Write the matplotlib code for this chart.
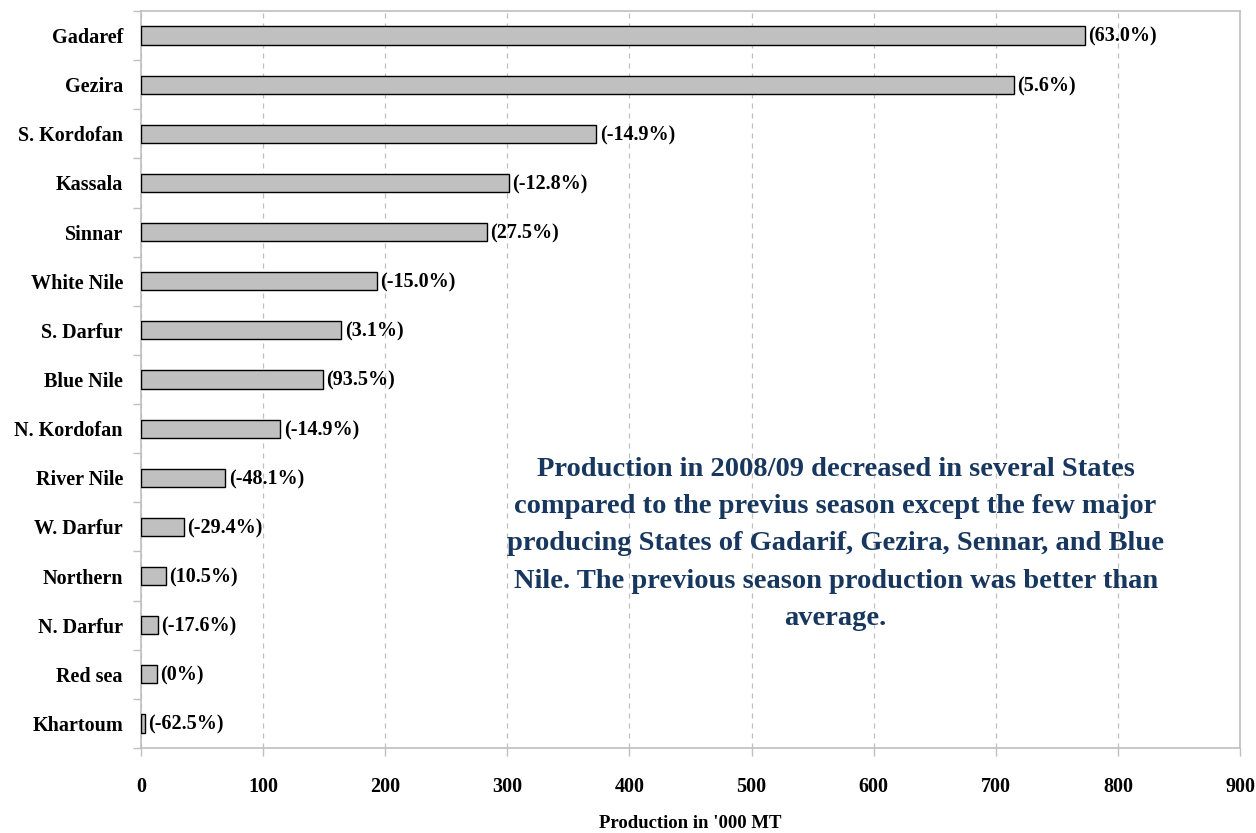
import matplotlib
matplotlib.use("Agg")
import matplotlib.pyplot as plt
from matplotlib.ticker import MultipleLocator, FixedLocator

states = ["Gadaref", "Gezira", "S. Kordofan", "Kassala", "Sinnar", "White Nile",
          "S. Darfur", "Blue Nile", "N. Kordofan", "River Nile", "W. Darfur",
          "Northern", "N. Darfur", "Red sea", "Khartoum"]
production = [773, 715, 373, 301, 283, 193, 164, 149, 114, 69, 35, 20.5, 14, 13, 3]
change_labels = ["(63.0%)", "(5.6%)", "(-14.9%)", "(-12.8%)", "(27.5%)", "(-15.0%)",
                 "(3.1%)", "(93.5%)", "(-14.9%)", "(-48.1%)", "(-29.4%)", "(10.5%)",
                 "(-17.6%)", "(0%)", "(-62.5%)"]
note = ("Production in 2008/09 decreased in several States\n"
        "compared to the previus season except the few major\n"
        "producing States of Gadarif, Gezira, Sennar, and Blue\n"
        "Nile. The previous season production was better than\n"
        "average.")

serif = ["Liberation Serif", "DejaVu Serif"]
plt.rcParams["font.family"] = serif

fig = plt.figure(figsize=(12.56, 8.33), dpi=100)
ax = fig.add_axes([141 / 1256, 85 / 833, 1099 / 1256, 737 / 833])

n = len(states)
ypos = list(range(n))
ax.barh(ypos, production, height=0.37, color="#C0C0C0", edgecolor="black",
        linewidth=1.0, zorder=3)

for y, v, lab in zip(ypos, production, change_labels):
    ax.annotate(lab, (v, y), xytext=(2.5, -1), textcoords="offset points",
                va="center", ha="left", fontsize=14.5, fontweight="bold",
                color="black", zorder=4)

ax.set_xlim(0, 900)
ax.set_ylim(n - 0.5, -0.5)
ax.xaxis.set_major_locator(MultipleLocator(100))
ax.set_yticks(ypos)
ax.set_yticklabels(states, fontsize=14.5, fontweight="bold")
ax.yaxis.set_minor_locator(FixedLocator([i - 0.5 for i in range(n + 1)]))
ax.tick_params(axis="y", which="major", length=0, pad=13)
ax.tick_params(axis="y", which="minor", length=6, color="#BFBFBF", width=1)
ax.tick_params(axis="x", which="major", length=6, color="#BFBFBF", width=1,
               labelsize=14.5, pad=15)
for lab in ax.get_xticklabels():
    lab.set_fontweight("bold")

ax.grid(axis="x", color="#BFBFBF", linestyle=(0, (4, 4)), linewidth=0.9, zorder=0)
for side in ["left", "right", "top", "bottom"]:
    ax.spines[side].set_color("#BFBFBF")
    ax.spines[side].set_linewidth(1.2)

ax.set_xlabel("Production in '000 MT", fontsize=13.5, fontweight="bold")
ax.xaxis.set_label_coords(0.5, -75 / 737)
ax.xaxis.label.set_verticalalignment("center")

ax.text(0.632, 0.277, note, transform=ax.transAxes, ha="center", va="center",
        fontsize=20.5, fontweight="bold", color="#17375E", linespacing=1.65,
        zorder=5)

fig.savefig("out.png", dpi=100)
